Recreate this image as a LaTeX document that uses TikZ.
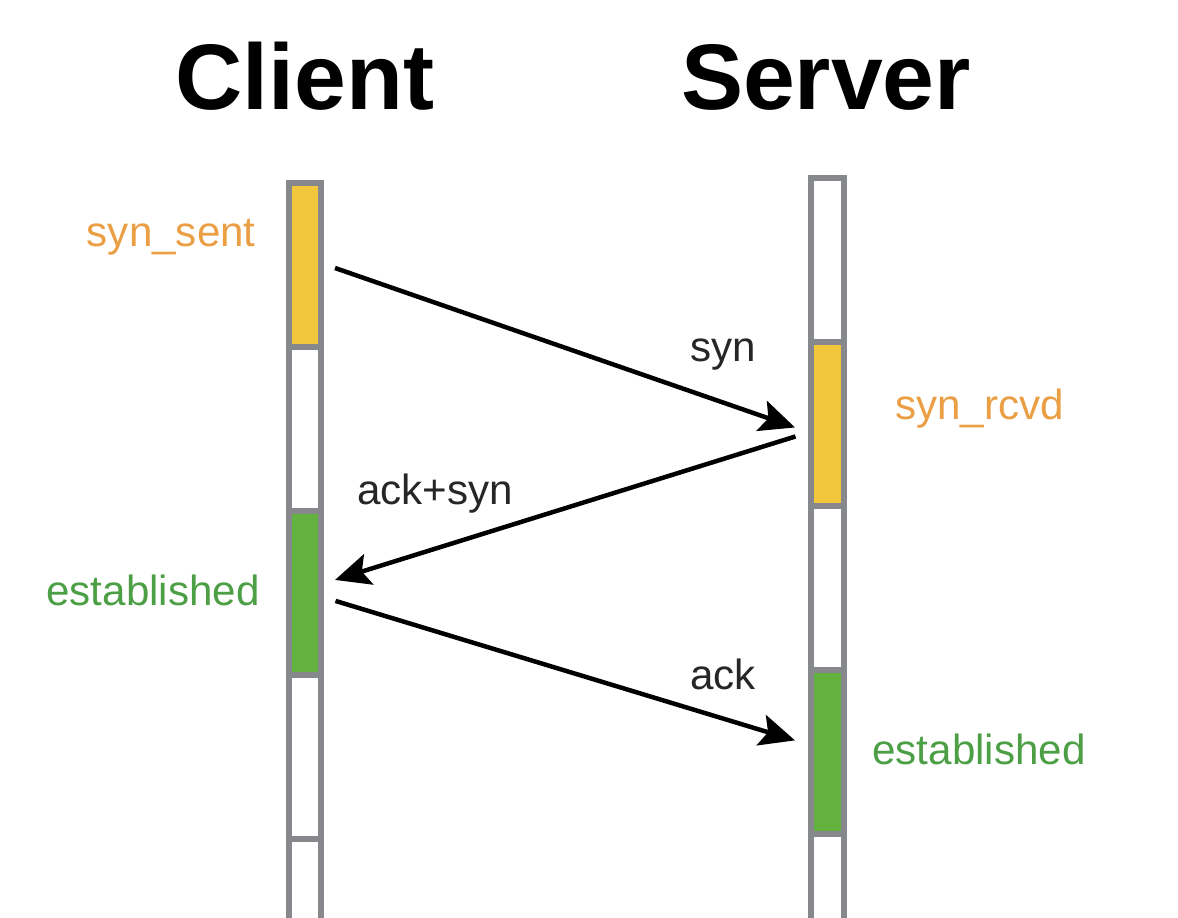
\documentclass[tikz,border=0pt]{standalone}
\usepackage{fontspec}
\setmainfont{Liberation Sans}
\usetikzlibrary{positioning, arrows.meta, calc}

\definecolor{baryellow}{HTML}{F2C73C}
\definecolor{bargreen}{HTML}{63B23F}
\definecolor{bargray}{HTML}{87888C}
\definecolor{txtorange}{HTML}{EA9F45}
\definecolor{txtgreen}{HTML}{4C9F45}

\begin{document}
\begin{tikzpicture}[
          x=0.02cm, y=-0.02cm,
          seg/.style = {draw=bargray, line width=0.12cm, fill=white, minimum width=0.66cm, minimum height=3.28cm, inner sep=0pt, outer sep=0pt},
          title/.style = {font=\fontsize{53}{60}\selectfont\bfseries},
          state/.style = {font=\fontsize{24}{27}\selectfont, inner sep=0pt},
          msg/.style = {font=\fontsize{24}{27}\selectfont, inner sep=0pt, text=black!85},
          arr/.style = {-{Stealth[length=20pt, width=18pt, inset=4pt]}, line width=0.09cm}
         ]
        \useasboundingbox (0,0) rectangle (1178,918);

        % Titel
        \node[title, anchor=base] (client) at (305,110) {Client};
        \node[title, anchor=base] (server) at (826,110) {Server};

        % Client Zeitleiste
        \node[seg, fill=baryellow] (c1) at (305,265) {};
        \node[seg, below=0pt of c1] (c2) {};
        \node[seg, below=0pt of c2, fill=bargreen] (c3) {};
        \node[seg, below=0pt of c3] (c4) {};
        \node[seg, below=0pt of c4] (c5) {};

        % Server Zeitleiste
        \node[seg] (s1) at (827,260) {};
        \node[seg, below=0pt of s1, fill=baryellow] (s2) {};
        \node[seg, below=0pt of s2] (s3) {};
        \node[seg, below=0pt of s3, fill=bargreen] (s4) {};
        \node[seg, below=0pt of s4] (s5) {};

        % Zustaende
        \node[state, anchor=base east, text=txtorange] (synsent) at (256,247) {syn\_sent};
        \node[state, anchor=base east, text=txtgreen] (estc) at (260,606) {established};
        \node[state, anchor=base west, text=txtorange] (synrcvd) at (895,420) {syn\_rcvd};
        \node[state, anchor=base west, text=txtgreen] (ests) at (872,765) {established};

        % Nachrichten
        \coordinate (syn-a) at ($(c1.east)+(13.5,3)$);
        \coordinate (syn-b) at ($(s2.west)+(-15.5,3.5)$);
        \coordinate (sa-a) at ($(s2.west)+(-15,12.5)$);
        \coordinate (sa-b) at ($(c3.east)+(13.5,-13)$);
        \coordinate (ack-a) at ($(c3.east)+(14,8)$);
        \coordinate (ack-b) at ($(s4.west)+(-15.5,-11.5)$);

        \draw[arr] (syn-a) -- (syn-b);
        \draw[arr] (sa-a) -- (sa-b);
        \draw[arr] (ack-a) -- (ack-b);

        \node[msg, anchor=base west] (synlbl) at (690,362) {syn};
        \node[msg, anchor=base west] (salbl) at (357,505) {ack+syn};
        \node[msg, anchor=base west] (acklbl) at (690,690) {ack};

        \end{tikzpicture}
\end{document}
